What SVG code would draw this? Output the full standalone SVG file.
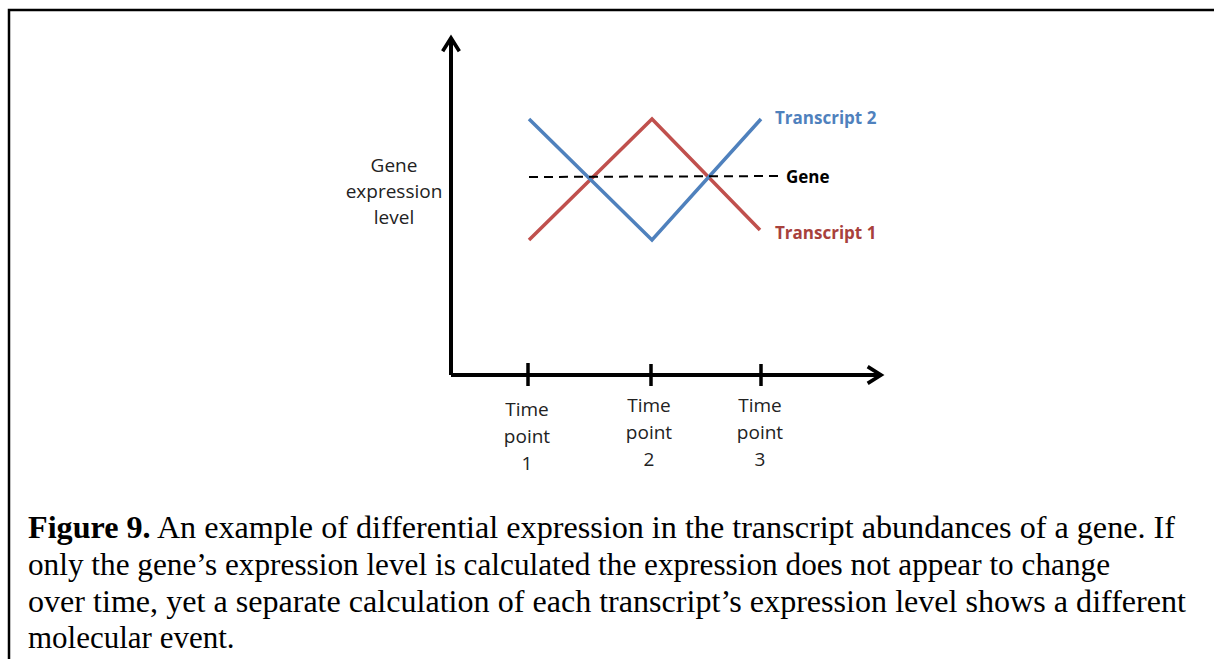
<svg xmlns="http://www.w3.org/2000/svg" width="1214" height="659" viewBox="0 0 1214 659">
  <style>
    .axis { stroke: #000; stroke-width: 4; fill: none; }
    .tick { stroke: #000; stroke-width: 3.5; }
    .t1 { stroke: #c0504d; stroke-width: 3.5; fill: none; stroke-linejoin: miter; }
    .t2 { stroke: #4f81bd; stroke-width: 3.5; fill: none; stroke-linejoin: miter; }
    .gene { stroke: #000; stroke-width: 2; stroke-dasharray: 9 6; fill: none; }
    .lbl { font-family: "Open Sans", "Liberation Sans", sans-serif; font-size: 19px; fill: #222; text-anchor: middle; }
    .key { font-family: "Open Sans", "Liberation Sans", sans-serif; font-size: 17px; font-weight: bold; }
    .cap { font-family: "Liberation Serif", serif; font-size: 31px; fill: #000; }
  </style>
  <defs>
    <marker id="arrow" viewBox="0 0 12 12" refX="9" refY="6" markerWidth="5" markerHeight="5" orient="auto" markerUnits="strokeWidth">
      <path d="M1,1 L9,6 L1,11" fill="none" stroke="#000" stroke-width="2.2"/>
    </marker>
  </defs>

  <rect width="1214" height="659" fill="#fff"/>
  <!-- frame: top and left edges only -->
  <path d="M9,659 V10 H1214" fill="none" stroke="#000" stroke-width="2.5"/>

  <!-- axes -->
  <g id="axes">
    <path class="axis" d="M451,375 V38" marker-end="url(#arrow)"/>
    <path class="axis" d="M451,375 H881" marker-end="url(#arrow)"/>
    <line class="tick" x1="528" y1="363" x2="528" y2="386"/>
    <line class="tick" x1="651" y1="364" x2="651" y2="386"/>
    <line class="tick" x1="761" y1="364" x2="761" y2="386"/>
  </g>

  <g id="y-label">
    <text class="lbl" x="394" y="172">Gene</text>
    <text class="lbl" x="394" y="198">expression</text>
    <text class="lbl" x="394" y="224">level</text>
  </g>

  <g id="tp1">
    <text class="lbl" x="527" y="416">Time</text>
    <text class="lbl" x="527" y="443">point</text>
    <text class="lbl" x="527" y="470">1</text>
  </g>
  <g id="tp2">
    <text class="lbl" x="649" y="412">Time</text>
    <text class="lbl" x="649" y="439">point</text>
    <text class="lbl" x="649" y="466">2</text>
  </g>
  <g id="tp3">
    <text class="lbl" x="760" y="412">Time</text>
    <text class="lbl" x="760" y="439">point</text>
    <text class="lbl" x="760" y="466">3</text>
  </g>

  <!-- expression curves -->
  <g id="series">
    <polyline class="t1" points="529,240 652,119 760,230"/>
    <polyline class="t2" points="529,119 652,240 761,119"/>
    <line class="gene" x1="529" y1="177" x2="784" y2="176"/>
  </g>

  <g id="legend">
    <text class="key" x="775" y="124" fill="#4f81bd">Transcript 2</text>
    <text class="key" x="786" y="183" fill="#000">Gene</text>
    <text class="key" x="775" y="239" fill="#a8413c">Transcript 1</text>
  </g>

  <g id="caption">
    <text class="cap" x="28" y="538" textLength="1147" lengthAdjust="spacingAndGlyphs"><tspan font-weight="bold">Figure 9.</tspan> An example of differential expression in the transcript abundances of a gene. If</text>
    <text class="cap" x="28" y="575" textLength="1082" lengthAdjust="spacingAndGlyphs">only the gene’s expression level is calculated the expression does not appear to change</text>
    <text class="cap" x="28" y="612" textLength="1158" lengthAdjust="spacingAndGlyphs">over time, yet a separate calculation of each transcript’s expression level shows a different</text>
    <text class="cap" x="28" y="648">molecular event.</text>
  </g>
</svg>
